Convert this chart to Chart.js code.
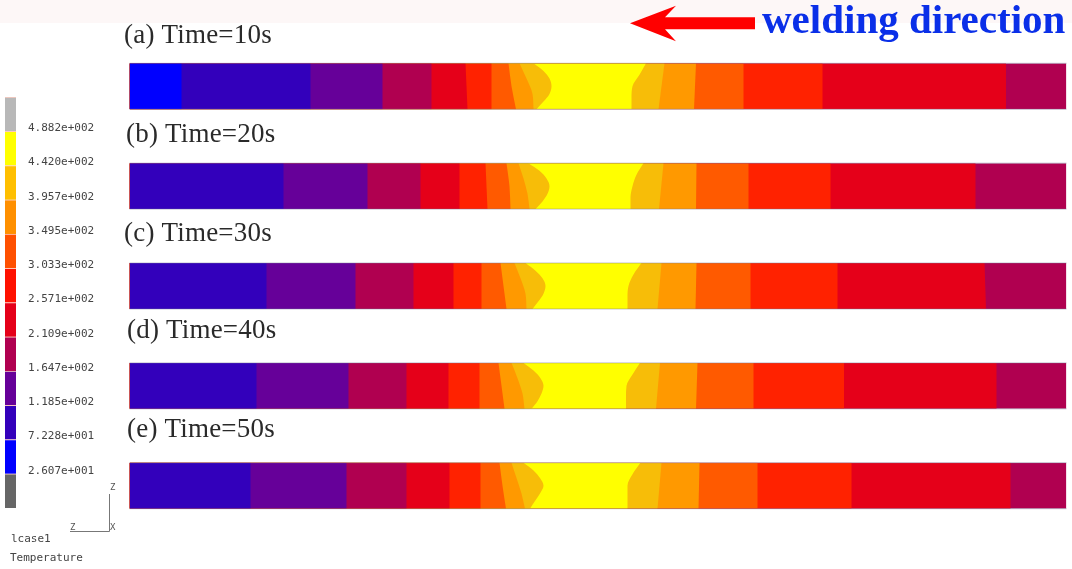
<!DOCTYPE html>
<html>
<head>
<meta charset="utf-8">
<title>Temperature field during welding</title>
<script src="https://cdn.jsdelivr.net/npm/chart.js@4/dist/chart.umd.js"></script>
<style>
  html, body { margin: 0; padding: 0; background: #fff; }
  canvas { position: absolute; }
  #chartPlates { left: 0; top: 0; filter: blur(0.4px); }
  #chartScale { left: 0; top: 90px; filter: blur(0.5px); }
</style>
</head>
<body>
<canvas id="chartPlates" width="1072" height="569"></canvas>
<canvas id="chartScale" width="125" height="430"></canvas>
<script>
const plateLabels = ["(a) Time=10s", "(b) Time=20s", "(c) Time=30s", "(d) Time=40s", "(e) Time=50s"];

// band boundaries along the plate, left to right. one value = straight edge,
// several values = edge position going from the top face to the bottom face
const plateA = [[52], [181], [253], [302], [336, 338], [362], [379, 382, 386.5], [390, 397, 403, 404],
    [404, 414, 420, 422, 420, 414, 407], [516.5, 510, 503, 502, 502], [535, 529], [566.5, 564.5], [614], [693], [876.5], [937]];
const plateB = [[154], [238], [291], [330], [356, 358], [377, 380, 381], [389, 394, 398, 400],
    [399, 410, 417, 420, 418, 413, 406], [514, 507, 503, 501, 501], [534, 529.5], [567, 566.5], [619], [701], [846], [937]];
const plateC = [[137], [226], [284], [324], [352], [371, 374, 377], [385, 391, 396, 397],
    [396, 406, 413, 416, 414, 409, 403], [512, 504, 499, 498, 498], [532, 528], [567, 566], [621], [708], [855, 856.5], [937]];
const plateD = [[127], [219], [277], [319], [350], [369, 372, 375], [382, 388, 393, 395],
    [394, 404, 411, 414, 412, 408, 402], [510.5, 503, 497, 496.5, 496.5], [530.5, 526.5], [568, 566.5], [624], [714.5], [867], [937]];
const plateE = [[121], [217], [277], [320], [351], [370, 373, 376.5], [382, 387, 392, 395.5],
    [394, 404, 410.5, 414, 410.5, 405.5, 400.5], [511, 503, 498, 498, 498], [532, 528], [570, 569], [628], [722], [881], [937]];

// plate (a) still has the coldest band on its left end, the others start at indigo
const bandColorsA = ["#0000ff", "#3300bb", "#660099", "#b00050", "#e50019", "#ff2200", "#ff5a00", "#ff9900", "#f7bd08",
    "#ffff00", "#f7bd08", "#ff9900", "#ff5a00", "#ff2200", "#e50019", "#b00050"];
const bandColors = bandColorsA.slice(1);

// colour scale
const scaleLevels = [26.07, 72.28, 118.5, 164.7, 210.9, 257.1, 303.3, 349.5, 395.7, 442.0, 488.2];
const scaleTicks = ["2.607e+001", "7.228e+001", "1.185e+002", "1.647e+002", "2.109e+002", "2.571e+002",
    "3.033e+002", "3.495e+002", "3.957e+002", "4.420e+002", "4.882e+002"];
const scaleColors = ["#666666", "#0000ff", "#3300bb", "#660099", "#b00050", "#e50019", "#ff1100", "#ff5000", "#ff9000", "#ffbf00", "#ffff00", "#b8b8b8"];
const scaleStep = 46.2;

const thickness = 0.46;

function boundaryDatasets(plate, index, colors) {
    return plate.map((xs, k) => {
        const edge = xs.length == 1 ? [xs[0], xs[0]] : xs;
        return {
            data: edge.map((x, j) => ({ x: x, y: index + thickness * j / (edge.length - 1) })),
            backgroundColor: colors[k],
            borderWidth: 0,
            pointRadius: 0,
            cubicInterpolationMode: edge.length > 2 ? 'monotone' : 'default',
            fill: { value: 0 },
            order: 10 + k
        };
    });
}

function faceLines(index) {
    return [0, thickness].map(y => ({
        data: [{ x: 0, y: index + y }, { x: 937, y: index + y }],
        borderColor: "rgba(120, 120, 150, 0.45)",
        borderWidth: 1,
        pointRadius: 0,
        fill: false,
        clip: false,
        order: 1
    }));
}

const plates = [plateA, plateB, plateC, plateD, plateE];
const datasets = [];
plates.forEach((p, i) => {
    datasets.push(...boundaryDatasets(p, i, i == 0 ? bandColorsA : bandColors));
    datasets.push(...faceLines(i));
});

// everything that is not a mark: pale strip, plate labels, arrow, heading, triad
const labelOffsets = [[-5.5, 20.6], [-3.5, 20.8], [-5.5, 21.6], [-2.5, 24.7], [-2.5, 25.4]];

const figureText = {
    id: 'figureText',
    beforeDraw(chart) {
        const c = chart.ctx;
        c.save();
        c.fillStyle = "#fdf7f7";
        c.fillRect(0, 0, 1072, 23);
        c.restore();
    },
    afterDraw(chart) {
        const c = chart.ctx;
        const left = chart.scales.x.getPixelForValue(0);
        c.save();

        c.fillStyle = "#2a2a2a";
        c.font = "27px 'Liberation Serif'";
        c.letterSpacing = "0.2px";
        c.textBaseline = 'alphabetic';
        plateLabels.forEach((t, i) => {
            const top = chart.scales.y.getPixelForValue(i);
            c.fillText(t, left + labelOffsets[i][0], top - labelOffsets[i][1]);
        });
        c.letterSpacing = "0px";

        c.fillStyle = "#ff0000";
        c.beginPath();
        c.moveTo(630, 23.3);
        c.lineTo(676, 5.7);
        c.lineTo(665, 17.3);
        c.lineTo(755, 17.3);
        c.lineTo(755, 29.3);
        c.lineTo(665, 29.3);
        c.lineTo(676, 41.3);
        c.closePath();
        c.fill();

        c.fillStyle = "#0a2fe8";
        c.font = "bold 41px 'Liberation Serif'";
        c.fillText("welding direction", 762, 33);

        c.strokeStyle = "#777";
        c.lineWidth = 1;
        c.beginPath();
        c.moveTo(109.5, 494);
        c.lineTo(109.5, 531.5);
        c.lineTo(70, 531.5);
        c.stroke();
        c.fillStyle = "#555";
        c.font = "9px 'DejaVu Sans Mono'";
        c.fillText("Z", 110, 490);
        c.fillText("X", 110, 530);
        c.fillText("Z", 70, 530);

        c.fillStyle = "#444";
        c.font = "11px 'DejaVu Sans Mono'";
        c.fillText("lcase1", 11, 542);
        c.fillText("Temperature", 10, 561);
        c.restore();
    }
};

new Chart(document.getElementById('chartPlates'), {
    type: 'line',
    data: { datasets: datasets },
    options: {
        indexAxis: 'y',
        responsive: false,
        animation: false,
        parsing: { xAxisKey: 'x', yAxisKey: 'y' },
        layout: { padding: { left: 129.5, right: 5.5, top: 63.3, bottom: 60.3 } },
        plugins: { legend: { display: false }, tooltip: { enabled: false } },
        scales: {
            x: { type: 'linear', min: 0, max: 937, display: false },
            y: { type: 'linear', min: 0, max: 4 + thickness, reverse: true, display: false }
        }
    },
    plugins: [figureText]
});

new Chart(document.getElementById('chartScale'), {
    type: 'bar',
    data: {
        labels: ["Temperature"],
        datasets: scaleColors.map((col, i) => ({
            data: [[scaleLevels[0] + (i - 1) * scaleStep, scaleLevels[0] + i * scaleStep]],
            backgroundColor: col,
            borderColor: "rgba(255, 170, 150, 0.6)",
            borderWidth: { top: 1 },
            borderSkipped: false,
            grouped: false,
            barPercentage: 1,
            categoryPercentage: 1
        }))
    },
    options: {
        responsive: false,
        animation: false,
        layout: { padding: { left: 5, top: 7, bottom: 12, right: 0 } },
        plugins: { legend: { display: false }, tooltip: { enabled: false } },
        scales: {
            x: { display: false },
            y: {
                position: 'right',
                min: scaleLevels[0] - scaleStep,
                max: scaleLevels[0] + 11 * scaleStep,
                grid: { display: false },
                border: { display: false },
                afterBuildTicks(axis) { axis.ticks = scaleLevels.map(v => ({ value: v })); },
                afterFit(axis) { axis.width = 109; axis.paddingTop = 0; axis.paddingBottom = 0; },
                ticks: {
                    autoSkip: false,
                    padding: 4,
                    labelOffset: -3,
                    color: "#444",
                    font: { family: "'DejaVu Sans Mono'", size: 11 },
                    callback: (v, i) => scaleTicks[i]
                }
            }
        }
    }
});
</script>
</body>
</html>
